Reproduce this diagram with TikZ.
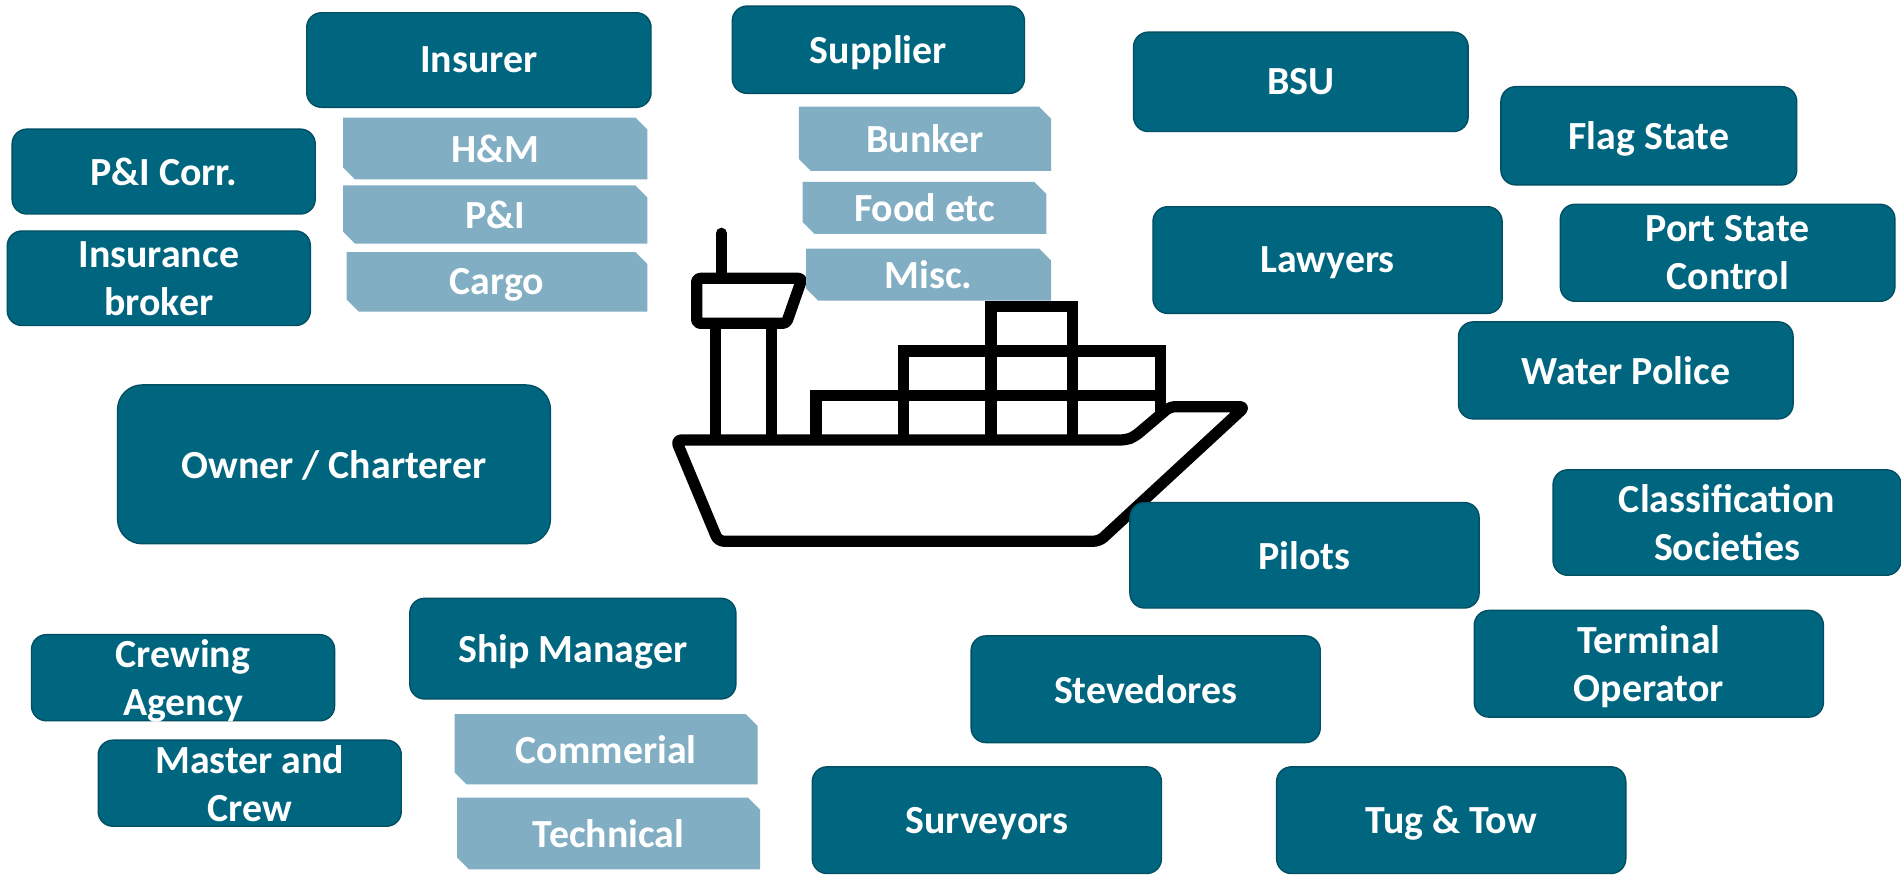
\documentclass[tikz,border=0pt]{standalone}
\usepackage{fontspec}
\setmainfont{Carlito}
\usetikzlibrary{shapes.misc}

\definecolor{tealbox}{HTML}{00667F}
\definecolor{tealedge}{HTML}{004F63}
\definecolor{bluebox}{HTML}{82AEC3}
\def\ux{0.012124cm}

\tikzset{
    partybox/.style={rectangle, rounded corners=4.2pt, fill=tealbox, draw=tealedge, line width=0.4pt,
        text=white, font=\fontsize{11.35pt}{13.6pt}\selectfont\bfseries, align=center, text depth=0pt, inner sep=0pt, outer sep=0pt},
    branchbox/.style={chamfered rectangle, chamfered rectangle corners={north east,south west},
        chamfered rectangle xsep=1.6pt, chamfered rectangle ysep=1.8pt, fill=bluebox,
        text=white, font=\fontsize{11.35pt}{13.6pt}\selectfont\bfseries, align=center, text depth=0pt, inner sep=0pt, outer sep=0pt},
    shipline/.style={line width=3.2pt, line join=round, line cap=round}
}

\begin{document}
\begin{tikzpicture}[x=\ux, y=-\ux]
    \useasboundingbox (0,0) rectangle (1568,722);

    % the ship
    \draw[shipline, rounded corners=1.6pt] (900,362.9) -- (557.6,362.9) -- (592.4,446.4) -- (906.8,446.4) -- (1027,335.4) -- (965,335.4) -- (936,360) -- (929,362.9) -- cycle;
    \draw[shipline] (595.1,192.4) -- (595.1,229.6);
    \draw[shipline, rounded corners=1pt] (574.6,229.6) -- (661.6,229.6) -- (648.6,266.7) -- (574.6,266.7) -- cycle;
    \draw[shipline, line cap=butt] (589.9,266.7) -- (589.9,362.9);
    \draw[shipline, line cap=butt] (636.5,266.7) -- (636.5,362.9);
    \draw[shipline, line cap=butt, line join=miter] (673,362.9) -- (673,326.3) -- (957.4,326.3) -- (957.4,340);
    \draw[shipline, line cap=butt, line join=miter] (745.1,362.9) -- (745.1,289.5) -- (957.4,289.5) -- (957.4,326.3);
    \draw[shipline, line cap=butt, line join=miter] (817.5,362.9) -- (817.5,252.9) -- (884.7,252.9) -- (884.7,362.9);

    % parties around the ship
    \draw (395,49.5) node[partybox, minimum width=284*\ux, minimum height=78*\ux] (insurer) {Insurer};
    \draw (724.5,41) node[partybox, minimum width=241*\ux, minimum height=72*\ux] (supplier) {Supplier};
    \draw (1073,67.5) node[partybox, minimum width=276*\ux, minimum height=82*\ux] (bsu) {BSU};
    \draw (1360,112) node[partybox, minimum width=244*\ux, minimum height=81*\ux] (flagstate) {Flag State};
    \draw (135,141.5) node[partybox, minimum width=250*\ux, minimum height=70*\ux] (picorr) {P\&I Corr.};
    \draw (131,229.5) node[partybox, minimum width=250*\ux, minimum height=78*\ux] (broker) {Insurance\\broker};
    \draw (1095,214.5) node[partybox, minimum width=288*\ux, minimum height=88*\ux] (lawyers) {Lawyers};
    \draw (1425,208.5) node[partybox, minimum width=276*\ux, minimum height=80*\ux] (portstate) {Port State\\Control};
    \draw (1341,305.5) node[partybox, minimum width=276*\ux, minimum height=80*\ux] (police) {Water Police};
    \draw (275.5,383) node[partybox, rounded corners=7pt, minimum width=357*\ux, minimum height=131*\ux] (owner) {Owner / Charterer};
    \draw (1424.5,431) node[partybox, minimum width=287*\ux, minimum height=87*\ux] (class) {Classification\\Societies};
    \draw (1076,458) node[partybox, minimum width=288*\ux, minimum height=87*\ux] (pilots) {Pilots};
    \draw (472.5,535) node[partybox, minimum width=269*\ux, minimum height=83*\ux] (manager) {Ship Manager};
    \draw (151,559) node[partybox, minimum width=250*\ux, minimum height=71*\ux] (crewing) {Crewing\\Agency};
    \draw (206,646) node[partybox, minimum width=250*\ux, minimum height=71*\ux] (master) {Master and\\Crew};
    \draw (1360,547.5) node[partybox, minimum width=288*\ux, minimum height=88*\ux] (terminal) {Terminal\\Operator};
    \draw (945,568.5) node[partybox, minimum width=288*\ux, minimum height=88*\ux] (stevedores) {Stevedores};
    \draw (814,676.5) node[partybox, minimum width=288*\ux, minimum height=88*\ux] (surveyors) {Surveyors};
    \draw (1197,676.5) node[partybox, minimum width=288*\ux, minimum height=88*\ux] (tug) {Tug \& Tow};

    % branches under insurer, supplier and manager
    \draw (408.5,122.5) node[branchbox, minimum width=251*\ux, minimum height=51*\ux] (hm) {H\&M};
    \draw (408.5,177) node[branchbox, minimum width=251*\ux, minimum height=48*\ux] (pi) {P\&I};
    \draw (410,232.5) node[branchbox, minimum width=248*\ux, minimum height=49*\ux] (cargo) {Cargo};
    \draw (763,114.5) node[branchbox, minimum width=208*\ux, minimum height=53*\ux] (bunker) {Bunker};
    \draw (762.5,171.5) node[branchbox, minimum width=201*\ux, minimum height=43*\ux] (food) {Food etc};
    \draw (766,226.5) node[branchbox, minimum width=202*\ux, minimum height=43*\ux] (misc) {Misc.};
    \draw (500,618) node[branchbox, minimum width=250*\ux, minimum height=58*\ux] (commercial) {Commerial};
    \draw (502,687.5) node[branchbox, minimum width=250*\ux, minimum height=59*\ux] (technical) {Technical};
\end{tikzpicture}
\end{document}
